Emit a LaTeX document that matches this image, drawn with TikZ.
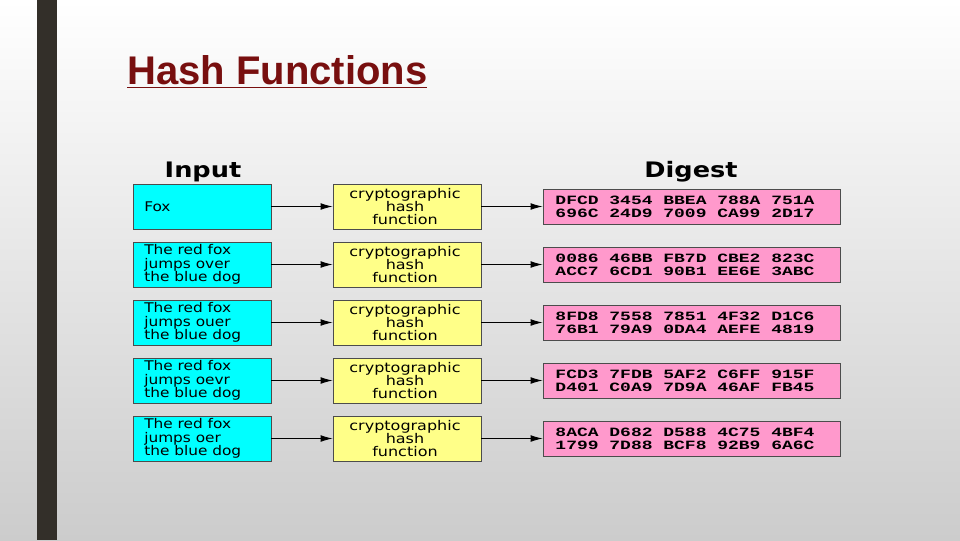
\documentclass[tikz,border=0pt]{standalone}
\usepackage{fontspec}
\setmainfont{DejaVu Sans}
\newfontfamily\titlefont{Liberation Sans}
\newfontfamily\hexfont{Liberation Mono}
\usetikzlibrary{arrows.meta}
\begin{document}
\begin{tikzpicture}[x=0.75pt,y=-0.75pt,
  inbox/.style={draw=black!70,fill={rgb,255:red,0;green,255;blue,255},minimum width=138*0.75pt,minimum height=45*0.75pt,inner sep=0pt},
  hbox/.style={draw=black!70,fill={rgb,255:red,255;green,255;blue,136},minimum width=148*0.75pt,minimum height=45*0.75pt,inner sep=0pt},
  htext/.style={align=center,font=\fontsize{10}{10}\selectfont,xscale=1.2,inner sep=0pt},
  dbox/.style={draw=black!70,fill={rgb,255:red,255;green,153;blue,204},minimum width=297*0.75pt,minimum height=35*0.75pt,inner sep=0pt},
  arr/.style={-{Latex[length=9pt,width=5pt]},line width=0.7pt},
  intext/.style={anchor=west,align=left,font=\fontsize{10}{10}\selectfont,xscale=1.15,inner sep=0pt},
  hextext/.style={align=left,font=\hexfont\bfseries\fontsize{9.5}{10}\selectfont,xscale=1.42,inner sep=0pt},
  head/.style={font=\bfseries\fontsize{16}{16}\selectfont,xscale=1.2}]
\shade[top color=white,bottom color=black!20] (0,0) rectangle (960,540);
\useasboundingbox (0,0) rectangle (960,540);
\fill[black!85!olive] (37,0) rectangle (57,540);
\node[anchor=west,inner sep=0pt,text={rgb,255:red,120;green,15;blue,15}] (title) at (127,72) {\titlefont\bfseries\fontsize{30}{30}\selectfont\underline{Hash Functions}};
\node[head] (hin) at (203,172) {Input};
\node[head] (hdg) at (691,172) {Digest};
\foreach \i/\t/\a/\b in {
 1/Fox/{DFCD 3454 BBEA 788A 751A}/{696C 24D9 7009 CA99 2D17},
 2/{The red fox\\jumps over\\the blue dog}/{0086 46BB FB7D CBE2 823C}/{ACC7 6CD1 90B1 EE6E 3ABC},
 3/{The red fox\\jumps ouer\\the blue dog}/{8FD8 7558 7851 4F32 D1C6}/{76B1 79A9 0DA4 AEFE 4819},
 4/{The red fox\\jumps oevr\\the blue dog}/{FCD3 7FDB 5AF2 C6FF 915F}/{D401 C0A9 7D9A 46AF FB45},
 5/{The red fox\\jumps oer\\the blue dog}/{8ACA D682 D588 4C75 4BF4}/{1799 7D88 BCF8 92B9 6A6C}} {
  \pgfmathsetmacro{\yy}{206.5+58*(\i-1)}
  \node[inbox] (in\i) at (202,\yy) {};
  \node[intext] (it\i) at (144,\yy) {\t};
  \node[hbox] (h\i) at (407,\yy) {};
  \node[htext] (ht\i) at (405,\yy) {cryptographic\\hash\\function};
  \node[dbox] (d\i) at (691.5,\yy) {};
  \node[hextext] (dt\i) at (685,\yy) {\a\\\b};
  \draw[arr] (in\i) -- (h\i);
  \draw[arr] (h\i) -- (d\i);
}
\end{tikzpicture}
\end{document}
